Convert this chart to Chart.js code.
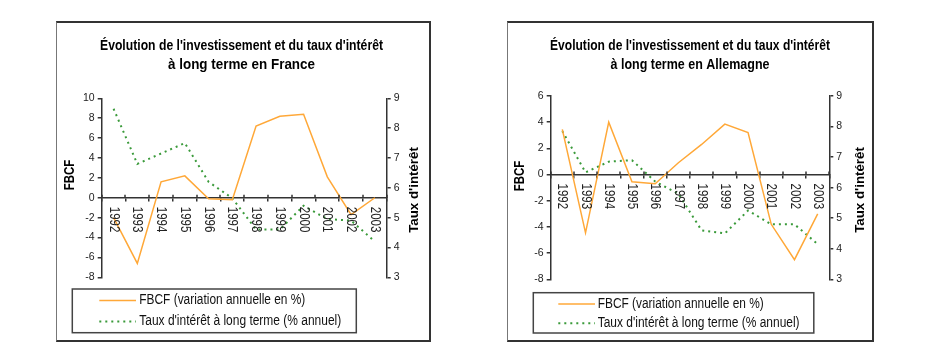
<!DOCTYPE html>
<html><head><meta charset="utf-8">
<script src="https://cdn.jsdelivr.net/npm/chart.js@4/dist/chart.umd.min.js"></script>
<style>
html,body{margin:0;padding:0;background:#fff}
body{width:937px;height:346px;position:relative;overflow:hidden}
canvas{position:absolute}
.frame{position:absolute;box-sizing:border-box;border:2px solid #333;border-left:1px solid #777;pointer-events:none}
</style></head>
<body>
<canvas id="cFR" width="375" height="321" style="left:56px;top:21px"></canvas>
<div class="frame" style="left:56px;top:21px;width:375px;height:321px"></div>
<canvas id="cDE" width="367" height="321" style="left:507px;top:21px"></canvas>
<div class="frame" style="left:507px;top:21px;width:367px;height:321px"></div>
<script>
// ---- data ----
const years = ['1992','1993','1994','1995','1996','1997','1998','1999','2000','2001','2002','2003'];
const fbcfFrance = [-2.0, -6.6, 1.6, 2.2, -0.1, -0.2, 7.2, 8.2, 8.4, 2.1, -1.7, 0.0];
const tauxFrance = [8.65, 6.8, 7.15, 7.5, 6.2, 5.65, 4.6, 4.6, 5.4, 4.95, 4.9, 4.2];
const fbcfAllemagne = [3.45, -4.45, 4.0, -0.55, -0.7, 0.9, 2.3, 3.85, 3.2, -3.8, -6.5, -3.0];
const tauxAllemagne = [7.85, 6.5, 6.85, 6.9, 6.2, 5.8, 4.6, 4.5, 5.25, 4.8, 4.8, 4.15];
const titleFrance = ["Évolution de l'investissement et du taux d'intérêt", "à long terme en France"];
const titleAllemagne = ["Évolution de l'investissement et du taux d'intérêt", "à long terme en Allemagne"];
const seriesLabels = ['FBCF (variation annuelle en %)', "Taux d'intérêt à long terme (% annuel)"];
const leftAxisTitle = 'FBCF';
const rightAxisTitle = "Taux d'intérêt";

const SANS = "'Liberation Sans',Arial,sans-serif";
const ORANGE = '#FFA838';
const GREEN = '#3A9A3A';
const AXIS = '#333';

function drawText(ctx, s, x, y, sx, rot, align) {
  ctx.save();
  ctx.translate(x, y);
  if (rot) ctx.rotate(rot);
  ctx.scale(sx, 1);
  ctx.textAlign = align;
  ctx.fillText(s, 0, 0);
  ctx.restore();
}

const decor = {
  id: 'decor',
  afterDraw(chart, args, o) {
    const ctx = chart.ctx;
    const xs = chart.scales.x, ys = chart.scales.y;
    const y0 = ys.getPixelForValue(0);
    ctx.save();
    ctx.textBaseline = 'middle';
    // title (two lines)
    ctx.fillStyle = '#000';
    ctx.font = 'bold 14.5px ' + SANS;
    o.title.forEach((line, i) => {
      const w = ctx.measureText(line).width;
      drawText(ctx, line, o.tx, o.ty[i], o.tw[i] / w, 0, 'center');
    });
    // upper half of crossing tick marks on category axis
    ctx.strokeStyle = AXIS; ctx.lineWidth = 1.5;
    for (let i = 0; i <= chart.data.labels.length; i++) {
      const x = Math.round(xs.getPixelForValue(i - 0.5));
      ctx.beginPath(); ctx.moveTo(x, y0 - 3); ctx.lineTo(x, y0); ctx.stroke();
    }
    // rotated category labels (reading downward)
    ctx.fillStyle = '#222';
    ctx.font = '14px ' + SANS;
    chart.data.labels.forEach((lab, i) => {
      drawText(ctx, lab, xs.getPixelForValue(i), y0 + 9, 0.82, Math.PI / 2, 'left');
    });
    // axis titles
    ctx.fillStyle = '#000';
    ctx.font = 'bold 14px ' + SANS;
    drawText(ctx, leftAxisTitle, o.lt[0], o.lt[1], 0.82, -Math.PI / 2, 'center');
    ctx.font = 'bold 13.3px ' + SANS;
    drawText(ctx, rightAxisTitle, o.rt[0], o.rt[1], 1, -Math.PI / 2, 'center');
    // legend box
    const L = o.legend;
    ctx.strokeStyle = '#444'; ctx.lineWidth = 1.5;
    ctx.strokeRect(L.x, L.y, L.w, L.h);
    ctx.strokeStyle = ORANGE; ctx.lineWidth = 1.5;
    ctx.beginPath(); ctx.moveTo(L.sx0, L.r1); ctx.lineTo(L.sx1, L.r1); ctx.stroke();
    ctx.strokeStyle = GREEN; ctx.lineWidth = 2; ctx.setLineDash([2, 4]);
    ctx.beginPath(); ctx.moveTo(L.sx0, L.r2); ctx.lineTo(L.sx1, L.r2); ctx.stroke();
    ctx.setLineDash([]);
    ctx.fillStyle = '#111';
    ctx.font = '14px ' + SANS;
    drawText(ctx, seriesLabels[0], L.tx, L.r1, 0.85, 0, 'left');
    drawText(ctx, seriesLabels[1], L.tx, L.r2, 0.855, 0, 'left');
    ctx.restore();
  }
};

function makeChart(id, fbcf, taux, leftMin, leftMax, geom) {
  return new Chart(document.getElementById(id), {
    type: 'line',
    data: {
      labels: years,
      datasets: [
        { label: seriesLabels[0], data: fbcf, yAxisID: 'y', borderColor: ORANGE, borderWidth: 1.5,
          pointRadius: 0, tension: 0, fill: false },
        { label: seriesLabels[1], data: taux, yAxisID: 'y1', borderColor: GREEN, borderWidth: 2,
          borderDash: [2, 4], pointRadius: 0, tension: 0, fill: false }
      ]
    },
    options: {
      responsive: false, animation: false, devicePixelRatio: 1,
      layout: { padding: { top: geom.padTop, bottom: geom.padBottom, left: 0, right: 0 } },
      plugins: {
        legend: { display: false }, tooltip: { enabled: false }, title: { display: false },
        decor: geom.decor
      },
      scales: {
        x: { type: 'category', offset: true, position: { y: 0 },
          ticks: { display: false },
          grid: { display: true, drawOnChartArea: false, offset: true, color: AXIS, lineWidth: 1.5, tickLength: 3 },
          border: { display: true, color: AXIS, width: 1.5 } },
        y: { position: 'left', min: leftMin, max: leftMax,
          ticks: { stepSize: 2, color: '#222', padding: 3, font: { family: SANS, size: 10.5 } },
          grid: { drawOnChartArea: false, color: AXIS, lineWidth: 1.5, tickLength: 4 },
          border: { display: true, color: AXIS, width: 1.5 },
          afterFit: s => { s.width = geom.leftW; } },
        y1: { position: 'right', min: 3, max: 9,
          ticks: { stepSize: 1, color: '#222', padding: 3, font: { family: SANS, size: 10.5 } },
          grid: { drawOnChartArea: false, color: AXIS, lineWidth: 1.5, tickLength: 4 },
          border: { display: true, color: AXIS, width: 1.5 },
          afterFit: s => { s.width = geom.rightW; } }
      }
    },
    plugins: [decor]
  });
}

makeChart('cFR', fbcfFrance, tauxFrance, -8, 10, {
  padTop: 77.3, padBottom: 64.7, leftW: 45.7, rightW: 44.3,
  decor: { title: titleFrance, tx: 185.5, ty: [25, 44], tw: [283, 147],
    lt: [14.5, 154], rt: [358, 169],
    legend: { x: 16.3, y: 268, w: 284, h: 43.7, sx0: 43.3, sx1: 80, r1: 279.5, r2: 300.5, tx: 83.3 } }
});
makeChart('cDE', fbcfAllemagne, tauxAllemagne, -8, 6, {
  padTop: 75, padBottom: 62.7, leftW: 43.7, rightW: 44.7,
  decor: { title: titleAllemagne, tx: 183, ty: [25, 44], tw: [280, 159],
    lt: [13, 155], rt: [353, 169],
    legend: { x: 26.3, y: 271.7, w: 280.5, h: 40.3, sx0: 51.3, sx1: 88, r1: 283, r2: 302.3, tx: 90.7 } }
});
</script>
</body></html>
